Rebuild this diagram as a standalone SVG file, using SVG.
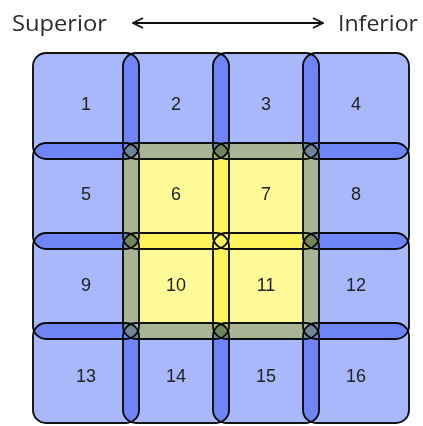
<svg xmlns="http://www.w3.org/2000/svg" width="423" height="426" viewBox="0 0 423 426">
<defs>
<style>
.layer{mix-blend-mode:multiply;isolation:isolate}
.t{mix-blend-mode:darken}
.t rect{stroke:#111;stroke-width:1.9}
.b rect{fill:#a9b8fa}
.y rect{fill:#fffa98}
.t text{font-family:"Liberation Sans",Arial,sans-serif;font-size:18px;fill:#222;text-anchor:middle}
.lbl{font-family:"Open Sans","Liberation Sans",sans-serif;font-size:22px;fill:#2a2a2a}
</style>
<marker id="ah" viewBox="0 0 12 12" refX="11" refY="6" markerWidth="12" markerHeight="12" markerUnits="userSpaceOnUse" orient="auto-start-reverse">
<path d="M1,1 L11,6 L1,11" fill="none" stroke="#111" stroke-width="1.8"/>
</marker>
</defs>
<rect width="423" height="426" fill="#fff"/>
<text class="lbl" x="12" y="31" textLength="95" lengthAdjust="spacingAndGlyphs">Superior</text>
<text class="lbl" x="338" y="31" textLength="80" lengthAdjust="spacingAndGlyphs">Inferior</text>
<g id="connectors">
<line x1="133" y1="23" x2="323" y2="23" stroke="#111" stroke-width="2" marker-start="url(#ah)" marker-end="url(#ah)"/>
</g>
<g id="tiles-a" class="layer">
<g id="n1" class="t b"><rect x="33" y="53" width="106" height="106" rx="13"/><text x="86" y="110">1</text></g>
<g id="n3" class="t b"><rect x="213" y="53" width="106" height="106" rx="13"/><text x="266" y="110">3</text></g>
<g id="n6" class="t y"><rect x="123" y="143" width="106" height="106" rx="13"/><text x="176" y="200">6</text></g>
<g id="n8" class="t b"><rect x="303" y="143" width="106" height="106" rx="13"/><text x="356" y="200">8</text></g>
<g id="n9" class="t b"><rect x="33" y="233" width="106" height="106" rx="13"/><text x="86" y="291">9</text></g>
<g id="n11" class="t y"><rect x="213" y="233" width="106" height="106" rx="13"/><text x="266" y="291">11</text></g>
<g id="n14" class="t b"><rect x="123" y="323" width="106" height="100" rx="13"/><text x="176" y="382">14</text></g>
<g id="n16" class="t b"><rect x="303" y="323" width="106" height="100" rx="13"/><text x="356" y="382">16</text></g>
</g>
<g id="tiles-b" class="layer">
<g id="n2" class="t b"><rect x="123" y="53" width="106" height="106" rx="13"/><text x="176" y="110">2</text></g>
<g id="n4" class="t b"><rect x="303" y="53" width="106" height="106" rx="13"/><text x="356" y="110">4</text></g>
<g id="n5" class="t b"><rect x="33" y="143" width="106" height="106" rx="13"/><text x="86" y="200">5</text></g>
<g id="n7" class="t y"><rect x="213" y="143" width="106" height="106" rx="13"/><text x="266" y="200">7</text></g>
<g id="n10" class="t y"><rect x="123" y="233" width="106" height="106" rx="13"/><text x="176" y="291">10</text></g>
<g id="n12" class="t b"><rect x="303" y="233" width="106" height="106" rx="13"/><text x="356" y="291">12</text></g>
<g id="n13" class="t b"><rect x="33" y="323" width="106" height="100" rx="13"/><text x="86" y="382">13</text></g>
<g id="n15" class="t b"><rect x="213" y="323" width="106" height="100" rx="13"/><text x="266" y="382">15</text></g>
</g>
</svg>
